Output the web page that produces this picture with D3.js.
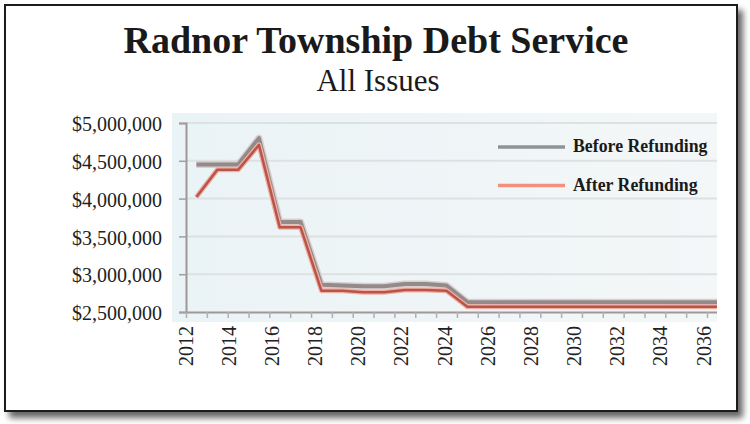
<!DOCTYPE html>
<html>
<head>
<meta charset="utf-8">
<script src="https://cdn.jsdelivr.net/npm/d3@7/dist/d3.min.js"></script>
<style>
  html, body { margin: 0; padding: 0; background: #ffffff; }
  svg { display: block; }
</style>
</head>
<body>
<svg id="chart" width="750" height="424"></svg>
<script>
// ---- data ----
const years = [2012, 2013, 2014, 2015, 2016, 2017, 2018, 2019, 2020, 2021, 2022, 2023, 2024,
               2025, 2026, 2027, 2028, 2029, 2030, 2031, 2032, 2033, 2034, 2035, 2036, 2037];
const beforeRefunding = [4450000, 4450000, 4450000, 4800000, 3690000, 3690000, 2860000, 2850000,
                         2840000, 2840000, 2870000, 2870000, 2850000,
                         2630000, 2630000, 2630000, 2630000, 2630000, 2630000, 2630000, 2630000,
                         2630000, 2630000, 2630000, 2630000, 2630000];
const afterRefunding = [4020000, 4380000, 4380000, 4710000, 3620000, 3620000, 2780000, 2780000,
                        2760000, 2760000, 2790000, 2790000, 2780000,
                        2570000, 2570000, 2570000, 2570000, 2570000, 2570000, 2570000, 2570000,
                        2570000, 2570000, 2570000, 2570000, 2570000];
const yTicks = [2500000, 3000000, 3500000, 4000000, 4500000, 5000000];
const xTickLabels = [2012, 2014, 2016, 2018, 2020, 2022, 2024, 2026, 2028, 2030, 2032, 2034, 2036];
const seriesNames = ["Before Refunding", "After Refunding"];
const titleText = "Radnor Township Debt Service";
const subtitleText = "All Issues";

// ---- layout ----
const svg = d3.select("#chart");
const serif = "'Liberation Serif', 'DejaVu Serif', serif";
const plotL = 186, plotR = 717, plotT = 123, plotB = 312;

const defs = svg.append("defs");
const shadow = defs.append("filter").attr("id", "shadow")
  .attr("x", "-5%").attr("y", "-5%").attr("width", "115%").attr("height", "120%");
shadow.append("feGaussianBlur").attr("in", "SourceAlpha").attr("stdDeviation", 3);
shadow.append("feOffset").attr("dx", 5).attr("dy", 6).attr("result", "ob");
shadow.append("feComponentTransfer").append("feFuncA").attr("type", "linear").attr("slope", 0.6);
const mrg = shadow.append("feMerge");
mrg.append("feMergeNode");
mrg.append("feMergeNode").attr("in", "SourceGraphic");

const bgGrad = defs.append("linearGradient").attr("id", "bgGrad")
  .attr("x1", 0).attr("y1", 0).attr("x2", 1).attr("y2", 0);
bgGrad.append("stop").attr("offset", "0%").attr("stop-color", "#eaf3f6");
bgGrad.append("stop").attr("offset", "100%").attr("stop-color", "#f4f7f8");

defs.append("clipPath").attr("id", "plotClip").append("rect")
  .attr("x", plotL).attr("y", plotT - 12).attr("width", plotR - plotL).attr("height", plotB - plotT + 20);

// frame
svg.append("rect").attr("x", 5).attr("y", 5).attr("width", 732).attr("height", 406)
  .attr("fill", "#ffffff").attr("stroke", "#1a1a1a").attr("stroke-width", 2)
  .attr("filter", "url(#shadow)");

// titles
svg.append("text").attr("x", 376).attr("y", 53).attr("text-anchor", "middle")
  .attr("font-family", serif).attr("font-weight", "bold").attr("font-size", 38)
  .attr("fill", "#1a1a1a").text(titleText);
svg.append("text").attr("x", 378).attr("y", 91).attr("text-anchor", "middle")
  .attr("font-family", serif).attr("font-size", 31)
  .attr("fill", "#1a1a1a").text(subtitleText);

// scales
const x = d3.scaleLinear().domain([2012, 2037]).range([plotL, 707]);
const xLab = d3.scaleLinear().domain([2012, 2036]).range([185, 703]);
const y = d3.scaleLinear().domain([2500000, 5000000]).range([plotB, plotT]);

// plot background
svg.append("rect").attr("x", 172).attr("y", 113).attr("width", plotR - 172).attr("height", 209)
  .attr("fill", "url(#bgGrad)");

// gridlines
svg.append("g").selectAll("line").data(yTicks.filter(d => d > 2500000)).join("line")
  .attr("x1", plotL).attr("x2", plotR)
  .attr("y1", d => y(d)).attr("y2", d => y(d))
  .attr("stroke", "#dde1e1").attr("stroke-width", 2);

// axes
const yAxis = d3.axisLeft(y).tickValues(yTicks).tickSize(7).tickPadding(17)
  .tickFormat(d => "$" + d3.format(",")(d));
const gy = svg.append("g").attr("transform", `translate(${plotL},0)`).call(yAxis);
gy.select(".domain").attr("stroke", "#a39696").attr("stroke-width", 2);
gy.selectAll(".tick line").attr("stroke", "#a0a0a0").attr("stroke-width", 1.5);
gy.selectAll(".tick text").attr("font-family", serif).attr("font-size", 20)
  .attr("fill", "#222222").attr("dy", "0.38em");

const gx = svg.append("g").attr("transform", `translate(0,${plotB})`)
  .call(d3.axisBottom(x).tickValues(d3.range(2012, 2038)).tickSize(6).tickFormat(""));
gx.select(".domain").attr("stroke", "#a39696").attr("stroke-width", 2)
  .attr("d", `M${plotL},0.5H${plotR}`);
gx.selectAll(".tick line").attr("stroke", "#b0b0b0").attr("stroke-width", 1.5);

const gxl = svg.append("g").attr("transform", `translate(0,${plotB})`)
  .call(d3.axisBottom(xLab).tickValues(xTickLabels).tickSize(0).tickFormat(d3.format("d")));
gxl.select(".domain").remove();
gxl.selectAll(".tick text")
  .attr("font-family", serif).attr("font-size", 20).attr("fill", "#222222")
  .attr("text-anchor", "end")
  .attr("transform", "rotate(-90)")
  .attr("x", -14).attr("y", 0).attr("dy", "0.35em");

// lines
const lineGen = vals => d3.line()
  .x((d, i) => x(years[i] + 0.5))
  .y(d => y(d))(vals);

const lines = svg.append("g").attr("clip-path", "url(#plotClip)");
lines.append("path").attr("d", lineGen(beforeRefunding)).attr("fill", "none")
  .attr("stroke", "#d9cfcf").attr("stroke-width", 7).attr("stroke-linejoin", "round");
lines.append("path").attr("d", lineGen(beforeRefunding)).attr("fill", "none")
  .attr("stroke", "#958a8a").attr("stroke-width", 4).attr("stroke-linejoin", "round");
lines.append("path").attr("d", lineGen(afterRefunding)).attr("fill", "none")
  .attr("stroke", "#efb1a6").attr("stroke-width", 5).attr("stroke-linejoin", "round");
lines.append("path").attr("d", lineGen(afterRefunding)).attr("fill", "none")
  .attr("stroke", "#bb5448").attr("stroke-width", 2.5).attr("stroke-linejoin", "round");

// legend
const legendColors = ["#8e9494", "#f2917e"];
const leg = svg.append("g");
seriesNames.forEach((name, i) => {
  const ly = 147 + i * 38.5;
  leg.append("line").attr("x1", 498).attr("x2", 565).attr("y1", ly).attr("y2", ly)
    .attr("stroke", legendColors[i]).attr("stroke-width", 3.5);
  leg.append("text").attr("x", 573).attr("y", ly + 5)
    .attr("font-family", serif).attr("font-weight", "bold").attr("font-size", 17.8)
    .attr("fill", "#1a1a1a").text(name);
});
</script>
</body>
</html>
